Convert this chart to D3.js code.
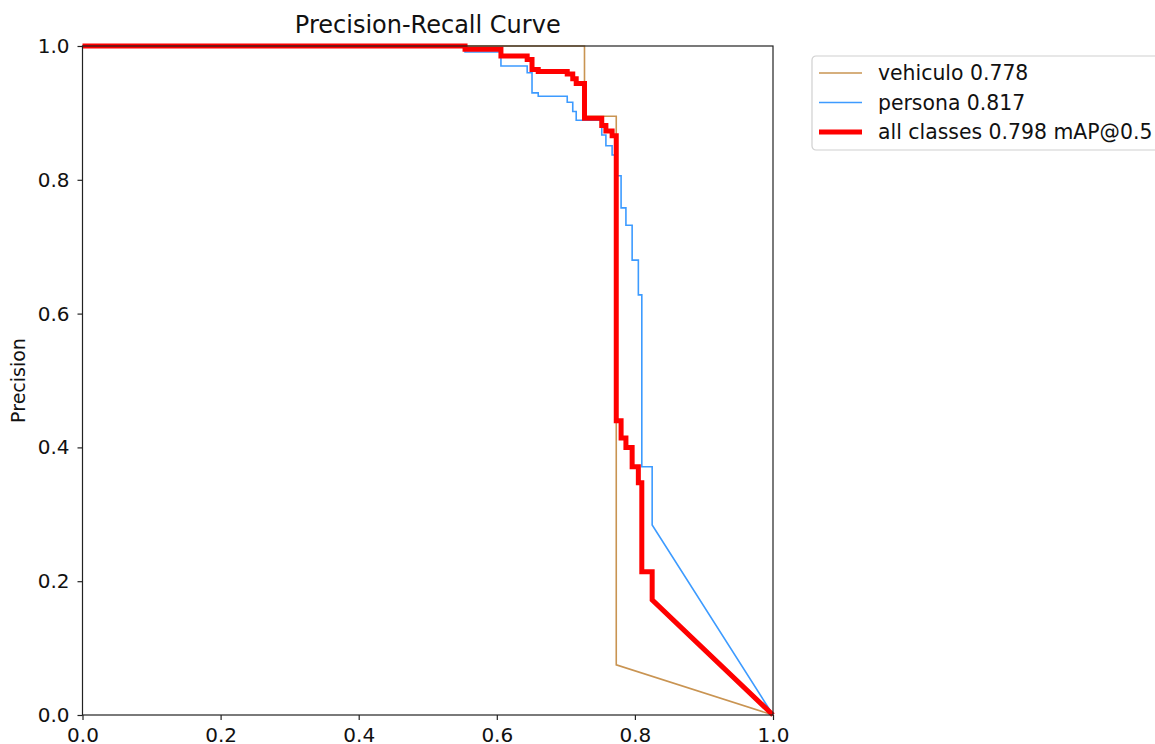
<!DOCTYPE html>
<html>
<head>
<meta charset="utf-8">
<script src="https://cdn.jsdelivr.net/npm/d3@7"></script>
<style>
  html, body { margin: 0; padding: 0; background: #fff; }
  svg { display: block; font-family: "DejaVu Sans", sans-serif; }
  .curve { fill: none; stroke-linejoin: miter; }
</style>
</head>
<body>
<svg id="chart" width="1155" height="744"></svg>
<script>
// step vertices: precision holds from recall[i] until recall[i+1]; last segment is a straight line
const vehiculoRecall = [0, 0.727, 0.773, 1.0];
const vehiculoPrecision = [1, 0.895, 0.075, 0];

const personaRecall = [0, 0.554, 0.606, 0.644, 0.651, 0.660, 0.702, 0.710, 0.715, 0.752, 0.758, 0.767,
  0.773, 0.780, 0.787, 0.796, 0.805, 0.810, 0.825, 1.0];
const personaPrecision = [1, 0.991, 0.970, 0.960, 0.930, 0.925, 0.916, 0.902, 0.889, 0.867, 0.851, 0.837,
  0.806, 0.758, 0.732, 0.680, 0.628, 0.371, 0.284, 0];

const allRecall = [0, 0.554, 0.606, 0.644, 0.651, 0.660, 0.702, 0.710, 0.715, 0.727, 0.752, 0.758, 0.767,
  0.773, 0.780, 0.787, 0.796, 0.805, 0.810, 0.825, 1.0];
const allPrecision = [1, 0.995, 0.985, 0.980, 0.965, 0.962, 0.958, 0.951, 0.944, 0.892, 0.881, 0.873, 0.866,
  0.440, 0.414, 0.400, 0.371, 0.347, 0.214, 0.172, 0];

const seriesNames = ["vehiculo 0.778", "persona 0.817", "all classes 0.798 mAP@0.5"];
const tickValues = [0, 0.2, 0.4, 0.6, 0.8, 1.0];

const series = [
  { name: seriesNames[0], recall: vehiculoRecall, precision: vehiculoPrecision, colour: "#c99452", width: 1.6 },
  { name: seriesNames[1], recall: personaRecall, precision: personaPrecision, colour: "#3d9bff", width: 1.6 },
  { name: seriesNames[2], recall: allRecall, precision: allPrecision, colour: "#ff0000", width: 5 }
];

const toPoints = (rec, prec) => {
  const pts = [[rec[0], prec[0]]];
  for (let i = 1; i < rec.length - 1; i++) {
    pts.push([rec[i], prec[i - 1]]);
    pts.push([rec[i], prec[i]]);
  }
  pts.push([rec[rec.length - 1], prec[prec.length - 1]]);
  return pts;
};

const svg = d3.select("#chart");
const margin = { top: 46, left: 82.5, right: 382, bottom: 29 };
const width = 1155 - margin.left - margin.right;
const height = 744 - margin.top - margin.bottom;

const x = d3.scaleLinear().domain([0, 1]).range([0, width]);
const y = d3.scaleLinear().domain([0, 1]).range([height, 0]);

const graph = svg.append("g").attr("transform", `translate(${margin.left}, ${margin.top})`);

const valueLine = d3.line().x(d => x(d[0])).y(d => y(d[1]));

series.forEach(s => {
  graph.append("path")
    .datum(toPoints(s.recall, s.precision))
    .attr("class", "curve")
    .attr("stroke", s.colour)
    .attr("stroke-width", s.width)
    .attr("d", valueLine);
});

// frame
graph.append("rect")
  .attr("width", width).attr("height", height)
  .attr("fill", "none").attr("stroke", "#222").attr("stroke-width", 1.2);

const xAxis = graph.append("g")
  .attr("transform", `translate(0, ${height})`)
  .call(d3.axisBottom(x).tickValues(tickValues).tickFormat(d3.format(".1f")).tickSize(5).tickPadding(8));
const yAxis = graph.append("g")
  .call(d3.axisLeft(y).tickValues(tickValues).tickFormat(d3.format(".1f")).tickSize(5).tickPadding(8));

[xAxis, yAxis].forEach(a => {
  a.select(".domain").remove();
  a.selectAll("line").attr("stroke", "#222").attr("stroke-width", 1.2);
  a.selectAll("text").attr("font-size", 20).attr("fill", "#111").attr("font-family", "DejaVu Sans");
});

svg.append("text")
  .attr("x", margin.left + width / 2).attr("y", 33)
  .attr("text-anchor", "middle")
  .attr("font-size", 24).attr("fill", "#111")
  .text("Precision-Recall Curve");

svg.append("text")
  .attr("transform", `translate(25, ${margin.top + height / 2}) rotate(-90)`)
  .attr("text-anchor", "middle")
  .attr("font-size", 19).attr("fill", "#111")
  .text("Precision");

// legend
const legend = svg.append("g").attr("transform", "translate(812, 56)");
legend.append("rect")
  .attr("width", 360).attr("height", 94).attr("rx", 4)
  .attr("fill", "#fff").attr("stroke", "#d0d0d0").attr("stroke-width", 1.2);

series.forEach((s, i) => {
  const row = legend.append("g").attr("transform", `translate(0, ${17 + i * 29.5})`);
  row.append("line")
    .attr("x1", 7).attr("x2", 50)
    .attr("stroke", s.colour).attr("stroke-width", s.width);
  row.append("text")
    .attr("x", 66).attr("dy", "0.35em")
    .attr("font-size", 20.4).attr("fill", "#111")
    .text(s.name);
});
</script>
</body>
</html>
